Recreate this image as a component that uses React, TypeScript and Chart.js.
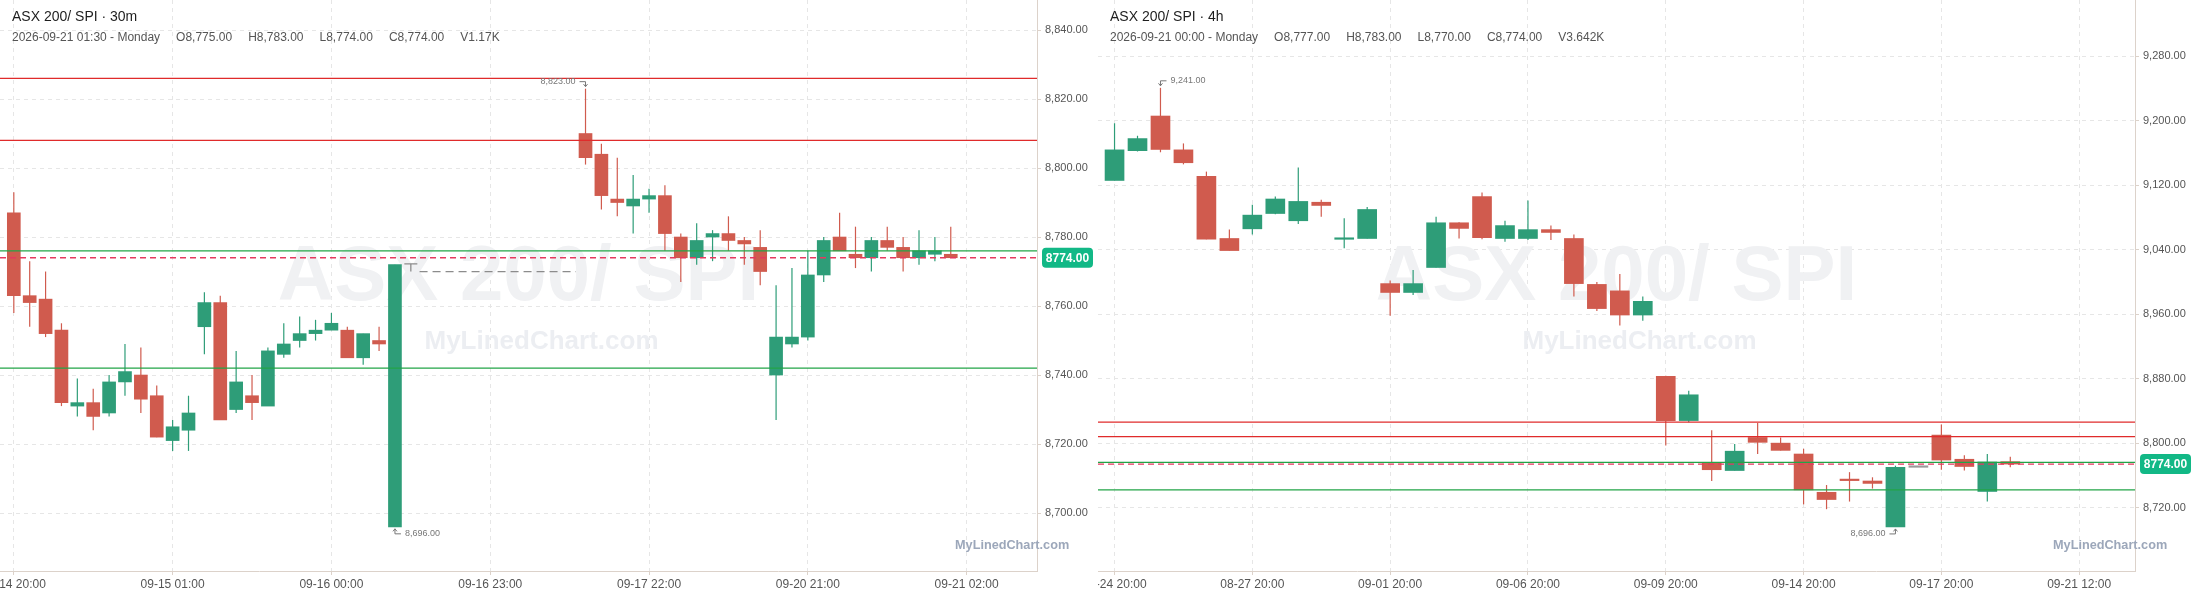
import React, { useEffect, useRef } from 'react';
import { Chart, registerables } from 'chart.js';

Chart.register(...registerables);

const FONT = "'Liberation Sans', Arial, Helvetica, sans-serif";

// ---------------- 30m panel ----------------
const m30Slots = [0, 1, 2, 3, 4, 5, 6, 7, 8, 9, 10, 11, 12, 13, 14, 15, 16, 17, 18, 19, 20, 21, 22, 23, 24,
  36, 37, 38, 39, 40, 41, 42, 43, 44, 45, 46, 47, 48, 49, 50, 51, 52, 53, 54, 55, 56, 57, 58, 59];
const m30Open = [8787, 8763, 8762, 8753, 8731, 8732, 8729, 8738, 8740, 8734, 8721, 8724, 8754, 8761, 8730, 8734, 8731, 8746, 8750, 8752, 8753, 8753, 8745, 8750, 8696,
  8810, 8804, 8791, 8789, 8791, 8792, 8780, 8774, 8780, 8781, 8779, 8777, 8740, 8749, 8751, 8769, 8780, 8775, 8774, 8779, 8777, 8774, 8775, 8775];
const m30High = [8793, 8773, 8770, 8755, 8739, 8736, 8740, 8749, 8748, 8737, 8727, 8734, 8764, 8763, 8747, 8740, 8748, 8755, 8757, 8756, 8758, 8754, 8752, 8754, 8772,
  8823, 8807, 8803, 8798, 8794, 8795, 8781, 8784, 8782, 8786, 8780, 8782, 8766, 8771, 8776, 8780, 8787, 8783, 8780, 8783, 8780, 8782, 8780, 8783];
const m30Low = [8758, 8754, 8751, 8731, 8728, 8724, 8728, 8734, 8729, 8722, 8718, 8718, 8746, 8727, 8729, 8727, 8731, 8745, 8748, 8750, 8753, 8745, 8743, 8747, 8696,
  8801, 8788, 8786, 8781, 8787, 8776, 8767, 8772, 8773, 8776, 8772, 8766, 8727, 8748, 8750, 8767, 8776, 8771, 8770, 8776, 8770, 8772, 8773, 8774];
const m30Close = [8763, 8761, 8752, 8732, 8732, 8728, 8738, 8741, 8733, 8722, 8725, 8729, 8761, 8727, 8738, 8732, 8747, 8749, 8752, 8753, 8755, 8745, 8752, 8749, 8772,
  8803, 8792, 8790, 8791, 8792, 8781, 8774, 8779, 8781, 8779, 8778, 8770, 8751, 8751, 8769, 8779, 8776, 8774, 8779, 8777, 8774, 8776, 8776, 8774];
const m30TickSlots = [0, 10, 20, 30, 40, 50, 60];
const m30TickLabels = ['09-14 20:00', '09-15 01:00', '09-16 00:00', '09-16 23:00', '09-17 22:00', '09-20 21:00', '09-21 02:00'];
const m30PriceTicks = [8700, 8720, 8740, 8760, 8780, 8800, 8820, 8840];
const m30Gap = { markSlot: 25, markPrice: 8772.2, fromSlot: 25.55, toSlot: 35.4, linePrice: 8770 };

// ---------------- 4h panel ----------------
const h4Slots = [0, 1, 2, 3, 4, 5, 6, 7, 8, 9, 10, 11, 12, 13, 14, 15, 16, 17, 18, 19,
  20, 21, 22, 23, 24, 25, 26, 27, 28, 29, 30, 31, 32, 33, 34, 35, 36, 37, 38, 39];
const h4Open = [9126, 9163, 9206, 9164, 9131, 9054, 9066, 9085, 9076, 9099, 9053, 9054, 8998, 8987, 9018, 9073.5, 9106, 9054, 9054, 9065,
  9054, 8997, 8989, 8959, 8883, 8828, 8776, 8766, 8807, 8800, 8786.5, 8739, 8754, 8753, 8696, 8770, 8810, 8780, 8740, 8777];
const h4High = [9197, 9181.5, 9241, 9172, 9137, 9065, 9096, 9106, 9142, 9102, 9079, 9093, 9002, 9015, 9081, 9074, 9111, 9076, 9101, 9070,
  9059, 9000, 9010, 8982, 8883.5, 8865, 8816, 8799, 8825, 8807, 8793, 8748, 8764, 8757.6, 8772, 8770, 8823, 8785, 8786.5, 8783];
const h4Low = [9126, 9162, 9161, 9146, 9053, 9039, 9059, 9084, 9072, 9081, 9042, 9054, 8958, 8984, 9018, 9054, 9053, 9050, 9052, 9052,
  8982, 8964, 8946, 8952, 8797, 8826, 8753, 8766, 8786.5, 8791, 8724, 8718, 8727.5, 8743.6, 8696, 8770, 8767, 8766, 8727.5, 8770];
const h4Close = [9164, 9178, 9164.5, 9148, 9053, 9039, 9083, 9103, 9100, 9095, 9054, 9090, 8987, 8998, 9073.5, 9066.5, 9055, 9070, 9065, 9061.5,
  8998, 8967, 8959, 8976, 8828, 8860, 8767, 8790, 8801, 8791, 8742, 8730, 8753.5, 8750, 8770, 8770, 8779, 8771, 8776.6, 8774];
const h4TickSlots = [0, 6, 12, 18, 24, 30, 36, 42];
const h4TickLabels = ['08-24 20:00', '08-27 20:00', '09-01 20:00', '09-06 20:00', '09-09 20:00', '09-14 20:00', '09-17 20:00', '09-21 12:00'];
const h4PriceTicks = [8720, 8800, 8880, 8960, 9040, 9120, 9200, 9280];

// ---------------- shared levels ----------------
const resistanceLevels = [8826, 8808];
const supportLevels = [8776, 8742];
const lastPrice = 8774;

const UP = '#2e9d78';
const DOWN = '#d05b4e';
const FLAT = '#9a9a9a';
const GRID = '#e6e6e6';
const AXIS = '#dcd2ca';
const LABEL = '#555555';

type Panel = {
  symbol: string;
  interval: string;
  dateText: string;
  volume: string;
  slots: number[];
  open: number[];
  high: number[];
  low: number[];
  close: number[];
  tickSlots: number[];
  tickLabels: string[];
  priceTicks: number[];
  xMin: number;
  xMax: number;
  yMin: number;
  yMax: number;
  bodyWidth: number;
  gap?: typeof m30Gap;
};

const m30Panel: Panel = {
  symbol: 'ASX 200/ SPI', interval: '30m', dateText: '2026-09-21 01:30 - Monday', volume: '1.17K',
  slots: m30Slots, open: m30Open, high: m30High, low: m30Low, close: m30Close,
  tickSlots: m30TickSlots, tickLabels: m30TickLabels, priceTicks: m30PriceTicks,
  xMin: -0.87, xMax: 64.43, yMin: 8683.2, yMax: 8848.7, bodyWidth: 13, gap: m30Gap,
};

const h4Panel: Panel = {
  symbol: 'ASX 200/ SPI', interval: '4h', dateText: '2026-09-21 00:00 - Monday', volume: '3.642K',
  slots: h4Slots, open: h4Open, high: h4High, low: h4Low, close: h4Close,
  tickSlots: h4TickSlots, tickLabels: h4TickLabels, priceTicks: h4PriceTicks,
  xMin: -0.72, xMax: 44.43, yMin: 8641.3, yMax: 9350, bodyWidth: 19,
};

const fmt = (v: number) => v.toLocaleString('en-US', { minimumFractionDigits: 2, maximumFractionDigits: 2 });

function makeOverlay(p: Panel) {
  return {
    id: 'panelOverlay',
    beforeDatasetsDraw(chart: any) {
      const { ctx, chartArea: a } = chart;
      ctx.save();
      ctx.beginPath();
      ctx.rect(a.left, a.top, a.right - a.left, a.bottom - a.top);
      ctx.clip();
      const cx = (a.left + a.right) / 2;
      ctx.textAlign = 'center';
      ctx.textBaseline = 'alphabetic';
      ctx.fillStyle = '#f0f1f3';
      ctx.font = `bold 78px ${FONT}`;
      ctx.fillText(p.symbol, cx, 300);
      ctx.fillStyle = '#eceef2';
      ctx.font = `bold 26px ${FONT}`;
      ctx.fillText('MyLinedChart.com', cx + 23, 349);
      ctx.restore();
    },
    afterDatasetsDraw(chart: any) {
      const { ctx, chartArea: a } = chart;
      const xS = chart.scales.x;
      const yS = chart.scales.y;
      ctx.save();
      ctx.beginPath();
      ctx.rect(a.left, a.top, a.right - a.left, a.bottom - a.top);
      ctx.clip();

      // session gap marker
      if (p.gap) {
        const g = p.gap;
        ctx.strokeStyle = '#8c8c8c';
        ctx.lineWidth = 1.3;
        const xT = xS.getPixelForValue(g.markSlot);
        const yTop = yS.getPixelForValue(g.markPrice);
        const yL = yS.getPixelForValue(g.linePrice);
        ctx.beginPath();
        ctx.moveTo(xT - 6.5, yTop);
        ctx.lineTo(xT + 6.5, yTop);
        ctx.moveTo(xT, yTop);
        ctx.lineTo(xT, yL);
        ctx.stroke();
        ctx.setLineDash([8, 5]);
        ctx.beginPath();
        ctx.moveTo(xS.getPixelForValue(g.fromSlot), yL);
        ctx.lineTo(xS.getPixelForValue(g.toSlot), yL);
        ctx.stroke();
        ctx.setLineDash([]);
      }

      const hline = (v: number, color: string, dash: number[], w: number) => {
        const y = yS.getPixelForValue(v);
        ctx.strokeStyle = color;
        ctx.lineWidth = w;
        ctx.setLineDash(dash);
        ctx.beginPath();
        ctx.moveTo(a.left, y);
        ctx.lineTo(a.right, y);
        ctx.stroke();
      };
      resistanceLevels.forEach((v) => hline(v, '#e02b2b', [], 1.2));
      supportLevels.forEach((v) => hline(v, '#22a447', [], 1.2));
      hline(lastPrice, '#e5395e', [6, 4], 1.3);
      ctx.setLineDash([]);

      // extreme labels
      let hi = 0;
      let lo = 0;
      p.high.forEach((v, i) => { if (v > p.high[hi]) hi = i; });
      p.low.forEach((v, i) => { if (v < p.low[lo]) lo = i; });
      const mid = (a.left + a.right) / 2;
      const drawExtreme = (i: number, isHigh: boolean) => {
        const xc = xS.getPixelForValue(p.slots[i]);
        const val = isHigh ? p.high[i] : p.low[i];
        const yv = yS.getPixelForValue(val);
        const textLeftSide = xc > mid;
        const dir = isHigh ? -1 : 1;
        const yBar = yv + dir * 7;
        const yTip = yv + dir * 2;
        const hx = textLeftSide ? xc - 6 : xc + 6;
        ctx.strokeStyle = '#777';
        ctx.fillStyle = '#777';
        ctx.lineWidth = 1;
        ctx.beginPath();
        ctx.moveTo(hx, yBar);
        ctx.lineTo(xc, yBar);
        ctx.lineTo(xc, yTip);
        ctx.stroke();
        ctx.beginPath();
        ctx.moveTo(xc - 2, yTip + dir * 2.5);
        ctx.lineTo(xc, yTip);
        ctx.lineTo(xc + 2, yTip + dir * 2.5);
        ctx.stroke();
        ctx.font = `9px ${FONT}`;
        ctx.textBaseline = 'middle';
        ctx.textAlign = textLeftSide ? 'right' : 'left';
        ctx.fillText(fmt(val), textLeftSide ? xc - 10 : xc + 10, yv + dir * 7);
      };
      drawExtreme(hi, true);
      drawExtreme(lo, false);
      ctx.restore();
    },
    afterDraw(chart: any) {
      const { ctx, chartArea: a } = chart;
      const yS = chart.scales.y;
      ctx.save();
      // price badge
      const yb = yS.getPixelForValue(lastPrice);
      ctx.fillStyle = '#12b886';
      ctx.beginPath();
      if (ctx.roundRect) ctx.roundRect(a.right + 5, yb - 10, 51, 20, 4);
      else ctx.rect(a.right + 5, yb - 10, 51, 20);
      ctx.fill();
      ctx.fillStyle = '#ffffff';
      ctx.font = `bold 12px ${FONT}`;
      ctx.textAlign = 'center';
      ctx.textBaseline = 'middle';
      ctx.fillText(lastPrice.toFixed(2), a.right + 30.5, yb + 0.5);

      // small watermark
      ctx.fillStyle = '#9ca7ba';
      ctx.font = `bold 12.7px ${FONT}`;
      ctx.textAlign = 'left';
      ctx.textBaseline = 'alphabetic';
      ctx.fillText('MyLinedChart.com', a.right - 82, 549);

      // title + OHLC line
      ctx.fillStyle = '#1e1e1e';
      ctx.font = `14px ${FONT}`;
      ctx.textBaseline = 'middle';
      ctx.fillText(`${p.symbol} · ${p.interval}`, 12, 17);
      const n = p.close.length - 1;
      const items = [
        p.dateText,
        'O' + fmt(p.open[n]),
        'H' + fmt(p.high[n]),
        'L' + fmt(p.low[n]),
        'C' + fmt(p.close[n]),
        'V' + p.volume,
      ];
      ctx.fillStyle = '#555555';
      ctx.font = `12px ${FONT}`;
      let x = 12;
      items.forEach((t) => {
        ctx.fillText(t, x, 38);
        x += ctx.measureText(t).width + 16;
      });
      ctx.restore();
    },
  };
}

function buildChart(canvas: HTMLCanvasElement, p: Panel) {
  const colorAt = (i: number) => (p.close[i] > p.open[i] ? UP : p.close[i] < p.open[i] ? DOWN : FLAT);
  const colors = p.slots.map((_, i) => colorAt(i));
  return new Chart(canvas, {
    type: 'bar',
    data: {
      datasets: [
        {
          label: 'body',
          data: p.slots.map((s, i) => ({ x: s, y: [p.open[i], p.close[i]] })) as any,
          backgroundColor: colors,
          borderWidth: 0,
          barThickness: p.bodyWidth,
          minBarLength: 1.5,
          grouped: false,
          order: 0,
        } as any,
        {
          label: 'wick',
          data: p.slots.map((s, i) => ({ x: s, y: [p.low[i], p.high[i]] })) as any,
          backgroundColor: colors,
          borderWidth: 0,
          barThickness: 1.2,
          inflateAmount: 0,
          grouped: false,
          order: 1,
        } as any,
      ],
    },
    options: {
      responsive: false,
      maintainAspectRatio: false,
      animation: false,
      devicePixelRatio: 1,
      layout: { padding: 0 },
      plugins: { legend: { display: false }, tooltip: { enabled: false } },
      scales: {
        x: {
          type: 'linear',
          min: p.xMin,
          max: p.xMax,
          offset: false,
          grid: { offset: false, color: GRID, lineWidth: 1, drawTicks: true, tickLength: 4, tickColor: AXIS, tickBorderDash: [] },
          border: { color: AXIS, width: 1, dash: [4, 4] },
          ticks: {
            color: LABEL,
            font: { size: 12, family: FONT },
            padding: 2,
            autoSkip: false,
            maxRotation: 0,
            minRotation: 0,
            callback: (_v: any, i: number) => p.tickLabels[i],
          },
          afterBuildTicks: (s: any) => { s.ticks = p.tickSlots.map((v) => ({ value: v })); },
          afterFit: (s: any) => { s.height = 26; s.paddingLeft = 0; s.paddingRight = 0; },
        } as any,
        y: {
          type: 'linear',
          position: 'right',
          min: p.yMin,
          max: p.yMax,
          grid: { color: GRID, lineWidth: 1, drawTicks: true, tickLength: 4, tickColor: AXIS, tickBorderDash: [] },
          border: { color: AXIS, width: 1, dash: [4, 4] },
          ticks: {
            color: LABEL,
            font: { size: 11, family: FONT },
            padding: 4,
            callback: (v: any) => fmt(Number(v)),
          },
          afterBuildTicks: (s: any) => { s.ticks = p.priceTicks.map((v) => ({ value: v })); },
          afterFit: (s: any) => { s.width = 61; s.paddingTop = 0; s.paddingBottom = 0; },
        } as any,
      },
    } as any,
    plugins: [makeOverlay(p) as any],
  });
}

export default function App() {
  const leftRef = useRef<HTMLCanvasElement>(null);
  const rightRef = useRef<HTMLCanvasElement>(null);

  useEffect(() => {
    const c1 = buildChart(leftRef.current as HTMLCanvasElement, m30Panel);
    const c2 = buildChart(rightRef.current as HTMLCanvasElement, h4Panel);
    return () => {
      c1.destroy();
      c2.destroy();
    };
  }, []);

  return (
    <div style={{ position: 'fixed', left: 0, top: 0, width: 2196, height: 597, background: '#ffffff', display: 'flex' }}>
      <div style={{ width: 1098, height: 597, position: 'relative' }}>
        <canvas ref={leftRef} width={1098} height={597} style={{ display: 'block', width: 1098, height: 597 }} />
      </div>
      <div style={{ width: 1098, height: 597, position: 'relative' }}>
        <canvas ref={rightRef} width={1098} height={597} style={{ display: 'block', width: 1098, height: 597 }} />
      </div>
    </div>
  );
}
